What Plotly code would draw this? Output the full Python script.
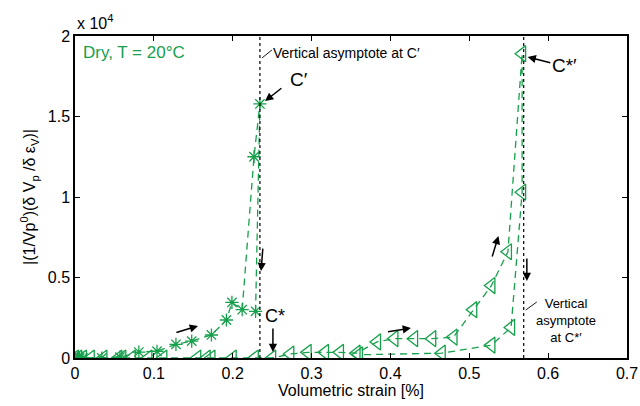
import plotly.graph_objects as go

# Star series (first cycle)
star_x = [0.0, 0.003, 0.006, 0.010, 0.034, 0.057, 0.081, 0.104, 0.128, 0.148,
          0.173, 0.192, 0.199, 0.212, 0.227, 0.2345, 0.229]
star_y = [0, 0, 0, 0, 0, 50, 370, 420, 850, 1050,
          1430, 2360, 3450, 3000, 12500, 15780, 2900]

# Triangle series (second cycle)
tri_x = [0.0, 0.004, 0.010, 0.020, 0.036, 0.055, 0.060, 0.072, 0.093, 0.112,
         0.155, 0.167, 0.173, 0.200, 0.228, 0.250, 0.273, 0.295, 0.317, 0.336,
         0.357, 0.383, 0.405, 0.430, 0.453, 0.480, 0.505, 0.528, 0.549, 0.567,
         0.567, 0.553, 0.528, 0.465, 0.360]
tri_y = [0, 0, 0, 0, 0, 0, 0, 0, 0, 0,
         0, 0, 0, 0, 0, 0, 250, 350, 350, 350,
         300, 1000, 1200, 1200, 1200, 1300, 3000, 4500, 6600, 18900,
         10300, 1900, 800, 300, 200]

asym_x = [0.2345, 0.569]
xticks = [0, 0.1, 0.2, 0.3, 0.4, 0.5, 0.6, 0.7]
xticktext = ["0", "0.1", "0.2", "0.3", "0.4", "0.5", "0.6", "0.7"]
yticks = [0, 5000, 10000, 15000, 20000]
yticktext = ["0", "0.5", "1", "1.5", "2"]

green = "#16a04c"
font = "Liberation Sans, Arial, sans-serif"

fig = go.Figure()
fig.add_trace(go.Scatter(
    x=star_x, y=star_y, mode="lines+markers",
    line=dict(color=green, width=1.3, dash="7px,5px"),
    marker=dict(symbol="asterisk-open", size=11, color=green,
                line=dict(color=green, width=1.3)),
    showlegend=False))
fig.add_trace(go.Scatter(
    x=tri_x, y=tri_y, mode="lines+markers",
    line=dict(color=green, width=1.3, dash="7px,5px"),
    marker=dict(symbol="triangle-left-open", size=14, color=green,
                line=dict(color=green, width=1.3)),
    showlegend=False))

shapes = []
for ax_ in asym_x:
    shapes.append(dict(type="line", x0=ax_, x1=ax_, y0=0, y1=20000,
                       xref="x", yref="y",
                       line=dict(color="black", width=1.2, dash="dot")))
# leader lines
shapes.append(dict(type="line", x0=0.237, y0=18630, x1=0.2497, y1=19130,
                   line=dict(color="black", width=0.9)))
shapes.append(dict(type="line", x0=0.5716, y0=2980, x1=0.5856, y1=3480,
                   line=dict(color="black", width=0.9)))

ann = []
def arrow(tx, ty, hx, hy):
    ann.append(dict(x=hx, y=hy, ax=tx, ay=ty, xref="x", yref="y",
                    axref="x", ayref="y", text="", showarrow=True,
                    arrowhead=2, arrowsize=1.1, arrowwidth=1.5,
                    arrowcolor="black"))

arrow(0.2636, 16830, 0.241, 15960)
arrow(0.6046, 18320, 0.574, 18700)
arrow(0.2383, 6890, 0.2360, 5400)
arrow(0.251, 1930, 0.251, 370)
arrow(0.1267, 1550, 0.156, 1990)
arrow(0.395, 1610, 0.426, 1860)
arrow(0.5285, 6210, 0.537, 7580)
arrow(0.573, 6270, 0.573, 4780)

def txt(x, y, s, size, color="black", xanchor="left", align="left"):
    ann.append(dict(x=x, y=y, xref="x", yref="y", text=s, showarrow=False,
                    xanchor=xanchor, yanchor="middle", align=align,
                    font=dict(family=font, size=size, color=color)))

txt(0.008, 18950, "Dry, T = 20°C", 17, color=green)
txt(0.249, 18950, "Vertical asymptote at C′", 14)
txt(0.270, 17270, "C′", 19)
txt(0.602, 18150, "C*′", 19)
txt(0.238, 2600, "C*", 18)
txt(0.623, 2350, "Vertical<br>asymptote<br>at C*′", 13, xanchor="center", align="center")

ann.append(dict(x=0, y=1, xref="paper", yref="paper", xanchor="left",
                yanchor="bottom", yshift=2, text="x 10<sup>4</sup>",
                showarrow=False, font=dict(family=font, size=16, color="black")))

fig.update_layout(
    width=640, height=406,
    margin=dict(l=75, r=13, t=36, b=48),
    paper_bgcolor="white", plot_bgcolor="white",
    shapes=shapes, annotations=ann,
    font=dict(family=font, size=16, color="black"),
    xaxis=dict(range=[0, 0.7], tickvals=xticks, ticktext=xticktext,
               ticks="inside", ticklen=5, tickcolor="black",
               showline=True, linecolor="black", linewidth=1.5, mirror="ticks",
               showgrid=False, zeroline=False, automargin=False,
               tickfont=dict(size=16),
               title=dict(text="Volumetric strain [%]", standoff=2,
                          font=dict(size=16))),
    yaxis=dict(range=[0, 20000], tickvals=yticks, ticktext=yticktext,
               ticks="inside", ticklen=5, tickcolor="black",
               showline=True, linecolor="black", linewidth=1.5, mirror="ticks",
               showgrid=False, zeroline=False, automargin=False,
               tickfont=dict(size=16),
               title=dict(text="|(1/Vp<sup>0</sup>)(δ V<sub>p</sub> /δ ε<sub>V</sub>)|",
                          standoff=8, font=dict(size=16))),
)

fig.write_html("out.html")
